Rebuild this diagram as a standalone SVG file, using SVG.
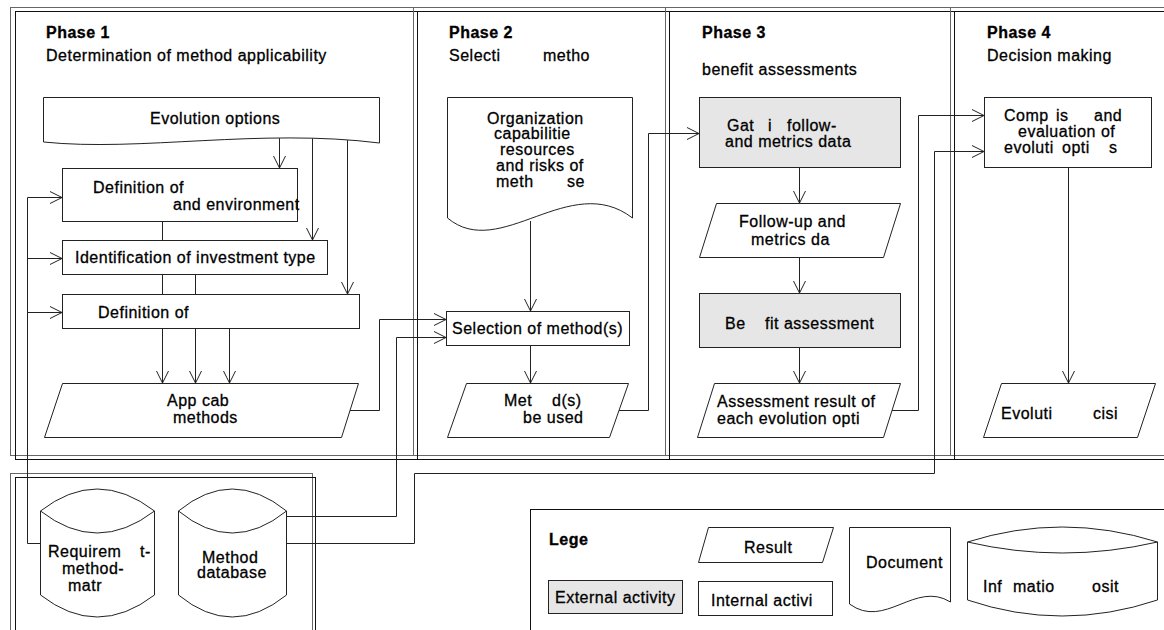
<svg xmlns="http://www.w3.org/2000/svg" width="1164" height="630" viewBox="0 0 1164 630">
<defs>
<style>
.t{font-family:"Liberation Sans",Arial,sans-serif;font-size:16px;letter-spacing:0.5px;fill:#000;stroke:#000;stroke-width:0.3px}
.b{font-weight:bold}
.f{fill:none;stroke:#111;stroke-width:1}
.g{fill:none;stroke:#666;stroke-width:1}
.n{fill:#fff;stroke:#222;stroke-width:1}
.x{fill:#e6e6e6;stroke:#222;stroke-width:1}
.c{fill:none;stroke:#222;stroke-width:1}
.a{marker-end:url(#arr)}
</style>
<marker id="arr" markerUnits="userSpaceOnUse" markerWidth="14" markerHeight="14" viewBox="0 0 14 14" refX="13" refY="7" orient="auto"><path d="M1,1 L13,7 L1,13" fill="none" stroke="#222" stroke-width="1"/></marker>
</defs>
<rect width="1164" height="630" fill="#fff"/>
<g id="lanes">
<rect class="g" x="10.5" y="7.5" width="403" height="448"/>
<rect class="f" x="15.5" y="11.5" width="402" height="448"/>
<rect class="g" x="413.5" y="7.5" width="252" height="448"/>
<rect class="f" x="417.5" y="11.5" width="252" height="448"/>
<rect class="g" x="665.5" y="7.5" width="285" height="448"/>
<rect class="f" x="669.5" y="11.5" width="285" height="448"/>
<rect class="g" x="950.5" y="7.5" width="230" height="448"/>
<rect class="f" x="954.5" y="11.5" width="230" height="448"/>
<rect class="g" x="10.5" y="473.5" width="302" height="170"/>
<rect class="f" x="15.5" y="477.5" width="300" height="170"/>
<text class="t b" x="46" y="38">Phase 1</text>
<text class="t" x="46" y="61">Determination of method applicability</text>
<text class="t b" x="449" y="38">Phase 2</text>
<text class="t" y="61"><tspan x="449">Selecti</tspan><tspan x="543">metho</tspan></text>
<text class="t b" x="702" y="38">Phase 3</text>
<text class="t" x="702" y="75">benefit assessments</text>
<text class="t b" x="987" y="38">Phase 4</text>
<text class="t" x="987" y="61">Decision making</text>
</g>
<g id="connectors">
<path class="c a" d="M279.5,138 V168"/>
<path class="c a" d="M312.5,138 V240"/>
<path class="c a" d="M347.5,140 V294"/>
<path class="c" d="M162.5,221 V240"/>
<path class="c" d="M162.5,274 V294"/>
<path class="c" d="M195.5,274 V294"/>
<path class="c a" d="M162.5,328 V383"/>
<path class="c a" d="M195.5,328 V383"/>
<path class="c a" d="M229.5,328 V383"/>
<path class="c a" d="M40,543.5 H27.5 V197.5 H62"/>
<path class="c a" d="M27.5,258.5 H62"/>
<path class="c a" d="M27.5,312.5 H62"/>
<path class="c a" d="M350,410.5 H379.5 V319.5 H446"/>
<path class="c a" d="M286,516.5 H396.5 V337.5 H446"/>
<path class="c a" d="M530.5,221 V311"/>
<path class="c a" d="M530.5,345 V383"/>
<path class="c a" d="M619,410.5 H648.5 V133.5 H699"/>
<path class="c a" d="M799.5,167 V203"/>
<path class="c a" d="M799.5,257 V293"/>
<path class="c a" d="M799.5,347 V383"/>
<path class="c a" d="M892,410.5 H918.5 V115.5 H984"/>
<path class="c a" d="M286,543.5 H414.5 V473.5 H934.5 V151.5 H984"/>
<path class="c a" d="M1068.5,167 V383"/>
</g>
<g id="evolution-options">
<path class="n" d="M43.5,97.5 H379.5 V143 C260,128 140,152 43.5,142 Z"/>
<text class="t" x="150" y="124">Evolution options</text>
</g>
<g id="definition-env">
<rect class="n" x="62.5" y="168.5" width="235" height="53"/>
<text class="t" x="93" y="193">Definition of</text>
<text class="t" x="173" y="210">and environment</text>
</g>
<g id="identification">
<rect class="n" x="62.5" y="240.5" width="265" height="34"/>
<text class="t" x="75" y="263">Identification of investment type</text>
</g>
<g id="definition-2">
<rect class="n" x="62.5" y="294.5" width="297" height="34"/>
<text class="t" x="98" y="318">Definition of</text>
</g>
<g id="applicable-methods">
<path class="n" d="M62.5,383.5 H358.5 L341.5,437.5 H44.5 Z"/>
<text class="t" x="167" y="406">App  cab</text>
<text class="t" x="173" y="423">methods</text>
</g>
<g id="organization-doc">
<path class="n" d="M447.5,97.5 H632.5 V218 C570,170 500,262 447.5,218 Z"/>
<text class="t" x="487" y="124">Organization</text>
<text class="t" x="494" y="139">capabilitie</text>
<text class="t" x="500" y="155">resources</text>
<text class="t" x="496" y="171">and risks of</text>
<text class="t" y="187"><tspan x="496">meth</tspan><tspan x="567">se</tspan></text>
</g>
<g id="selection">
<rect class="n" x="446.5" y="311.5" width="183" height="34"/>
<text class="t" x="452" y="334">Selection of method(s)</text>
</g>
<g id="methods-used">
<path class="n" d="M466.5,383.5 H628.5 L609.5,437.5 H447.5 Z"/>
<text class="t" y="406"><tspan x="504">Met</tspan><tspan x="552">d(s)</tspan></text>
<text class="t" x="523" y="423">be used</text>
</g>
<g id="gathering">
<rect class="x" x="699.5" y="97.5" width="201" height="70"/>
<text class="t" y="131"><tspan x="727">Gat</tspan><tspan x="768">i</tspan><tspan x="787">follow-</tspan></text>
<text class="t" x="725" y="147">and metrics data</text>
</g>
<g id="followup-data">
<path class="n" d="M716.5,203.5 H900.5 L883.5,257.5 H699.5 Z"/>
<text class="t" x="739" y="227">Follow-up and</text>
<text class="t" x="751" y="245">metrics da</text>
</g>
<g id="benefit-assessment">
<rect class="x" x="699.5" y="293.5" width="201" height="54"/>
<text class="t" y="329"><tspan x="725">Be</tspan><tspan x="765">fit assessment</tspan></text>
</g>
<g id="assessment-result">
<path class="n" d="M714.5,383.5 H900.5 L883.5,437.5 H697.5 Z"/>
<text class="t" x="717" y="407">Assessment result of</text>
<text class="t" x="717" y="424">each evolution opti</text>
</g>
<g id="comparison">
<rect class="n" x="984.5" y="97.5" width="167" height="70"/>
<text class="t" y="121"><tspan x="1004">Comp</tspan><tspan x="1056">is</tspan><tspan x="1094">and</tspan></text>
<text class="t" x="1018" y="137">evaluation of</text>
<text class="t" y="153"><tspan x="1004">evoluti</tspan><tspan x="1062">opti</tspan><tspan x="1109">s</tspan></text>
</g>
<g id="evolution-decision">
<path class="n" d="M1001.5,383.5 H1155.5 L1137.5,437.5 H983.5 Z"/>
<text class="t" y="419"><tspan x="1001">Evoluti</tspan><tspan x="1093">cisi</tspan></text>
</g>
<g id="requirement-matrix">
<path class="n" d="M40.5,511 Q97,467 154.5,511 V595 Q97,639 40.5,595 Z"/>
<path class="c" d="M40.5,511 Q97,555 154.5,511"/>
<text class="t" y="557"><tspan x="48">Requirem</tspan><tspan x="140">t-</tspan></text>
<text class="t" x="62" y="574">method-</text>
<text class="t" x="68" y="591">matr</text>
</g>
<g id="method-database">
<path class="n" d="M178.5,511 Q232,467 286.5,511 V595 Q232,639 178.5,595 Z"/>
<path class="c" d="M178.5,511 Q232,555 286.5,511"/>
<text class="t" x="202" y="563">Method</text>
<text class="t" x="197" y="578">database</text>
</g>
<g id="legend">
<rect class="f" x="530.5" y="509.5" width="650" height="140"/>
<text class="t b" x="549" y="545">Lege</text>
<path class="n" d="M708.5,527.5 H833.5 L822.5,562.5 H698.5 Z"/>
<text class="t" x="744" y="553">Result</text>
<rect class="x" x="548.5" y="580.5" width="134" height="33"/>
<text class="t" x="555" y="603">External activity</text>
<rect class="n" x="698.5" y="581.5" width="134" height="34"/>
<text class="t" x="711" y="606">Internal activi</text>
<path class="n" d="M849.5,527.5 H950.5 V602 C915,580 885,630 849.5,604 Z"/>
<text class="t" x="866" y="568">Document</text>
<path class="n" d="M967.5,542 Q1062,512 1157.5,542 V600 Q1062,632 967.5,600 Z"/>
<path class="c" d="M967.5,542 Q1062,564 1157.5,542"/>
<text class="t" y="592"><tspan x="983">Inf</tspan><tspan x="1013">matio</tspan><tspan x="1092">osit</tspan></text>
</g>
</svg>
